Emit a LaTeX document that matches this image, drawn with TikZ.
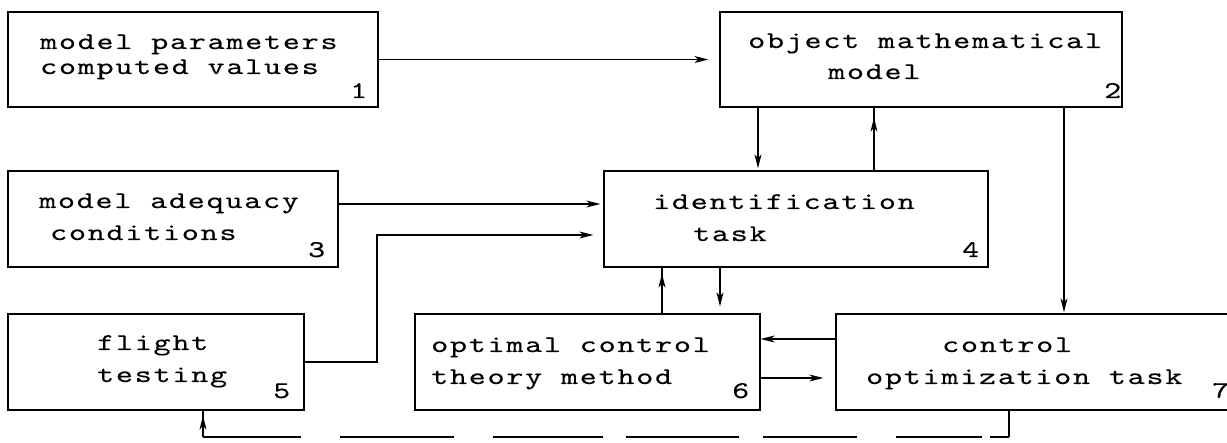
\documentclass[tikz,border=0pt]{standalone}
\usepackage{fontspec}
\usetikzlibrary{arrows.meta}
\newfontfamily\plotfont{lmmono10-regular.otf}[FakeStretch=1.35,LetterSpace=7.5,FakeBold=0.2]
\begin{document}
\begin{tikzpicture}[x=1pt,y=-1pt,
  box/.style={draw, line width=1.3pt, inner sep=0pt, rectangle},
  txt/.style={anchor=base west, inner sep=0pt, font=\plotfont\fontsize{24}{24}\selectfont},
  wire/.style={line width=1.2pt},
  arr/.style={line width=1.2pt, -{Stealth[length=14pt,width=7pt,inset=4pt]}}]
\useasboundingbox (0,0) rectangle (1227,443);
\fill[white] (0,0) rectangle (1227,443);
\clip (0,0) rectangle (1227,443);

% blocks
\node[box, minimum width=370pt, minimum height=95pt] (b1) at (193,59.5) {};
\node[box, minimum width=402pt, minimum height=95pt] (b2) at (921,59.5) {};
\node[box, minimum width=330pt, minimum height=96pt] (b3) at (173,219) {};
\node[box, minimum width=384pt, minimum height=96pt] (b4) at (796,219) {};
\node[box, minimum width=296pt, minimum height=96pt] (b5) at (156,362) {};
\node[box, minimum width=345pt, minimum height=96pt] (b6) at (587.5,362) {};
\node[box, minimum width=414pt, minimum height=96pt] (b7) at (1043,362) {};

% block texts
\node[txt] (t1a) at (40,49) {model parameters};
\node[txt] (t1b) at (40,74) {computed values};
\node[txt] (n1) at (350,98) {1};
\node[txt] (t2a) at (748,48) {object mathematical};
\node[txt] (t2b) at (828,79) {model};
\node[txt] (n2) at (1104,98) {2};
\node[txt] (t3a) at (39,208) {model adequacy};
\node[txt] (t3b) at (50,240) {conditions};
\node[txt] (n3) at (308,257) {3};
\node[txt] (t4a) at (653,209) {identification};
\node[txt] (t4b) at (693,241) {task};
\node[txt] (n4) at (962,257) {4};
\node[txt] (t5a) at (97,350) {flight};
\node[txt] (t5b) at (97,382) {testing};
\node[txt] (n5) at (273,398) {5};
\node[txt] (t6a) at (431,352) {optimal control};
\node[txt] (t6b) at (431,384) {theory method};
\node[txt] (n6) at (732,398) {6};
\node[txt] (t7a) at (942,352) {control};
\node[txt] (t7b) at (866,384) {optimization task};
\node[txt] (n7) at (1212,398) {7};

% lanes and bends
\coordinate (xA) at (758,0);
\coordinate (xB) at (874,0);
\coordinate (xC) at (1064,0);
\coordinate (xD) at (662,0);
\coordinate (xE) at (720,0);
\coordinate (xF) at (1009,0);
\coordinate (xG) at (203,0);
\coordinate (bend) at (377,235);
\coordinate (y34) at (0,204);
\coordinate (y76) at (0,339);
\coordinate (y67) at (0,378);
\coordinate (yb) at (0,437);

% connectors
\draw[arr, shorten >=11pt] (b1.east) -- (b2.west);
\draw[arr, shorten >=2pt] (b2.south -| xA) -- (b4.north -| xA);
\draw[wire] (b4.north -| xB) -- (b2.south -| xB);
\draw[arr, shorten >=10pt] (b4.north -| xB) -- (b2.south -| xB);
\draw[arr, shorten >=3pt] (b3.east |- y34) -- (b4.west |- y34);
\draw[arr, shorten >=10pt] (b5.east) -| (bend) -- (bend -| b4.west);
\draw[wire] (b6.north -| xD) -- (b4.south -| xD);
\draw[arr, shorten >=6pt] (b6.north -| xD) -- (b4.south -| xD);
\draw[arr, shorten >=7pt] (b4.south -| xE) -- (b6.north -| xE);
\draw[arr, shorten >=1pt] (b2.south -| xC) -- (b7.north -| xC);
\draw[arr] (b7.west |- y76) -- (b6.east |- y76);
\draw[arr, shorten >=12pt] (b6.east |- y67) -- (b7.west |- y67);

% feedback from block 7 to block 5
\draw[wire] (b7.south -| xF) -- (xF |- yb);
\draw[wire, dash pattern=on 98pt off 39pt on 114pt off 39pt on 110pt off 23pt on 113pt off 24pt on 94pt off 39pt on 86pt off 8pt on 40pt]
  (xG |- yb) -- (xF |- yb);
\draw[wire] (xG |- yb) -- (b5.south -| xG);
\draw[arr, shorten >=5pt] (xG |- yb) -- (b5.south -| xG);
\end{tikzpicture}
\end{document}
